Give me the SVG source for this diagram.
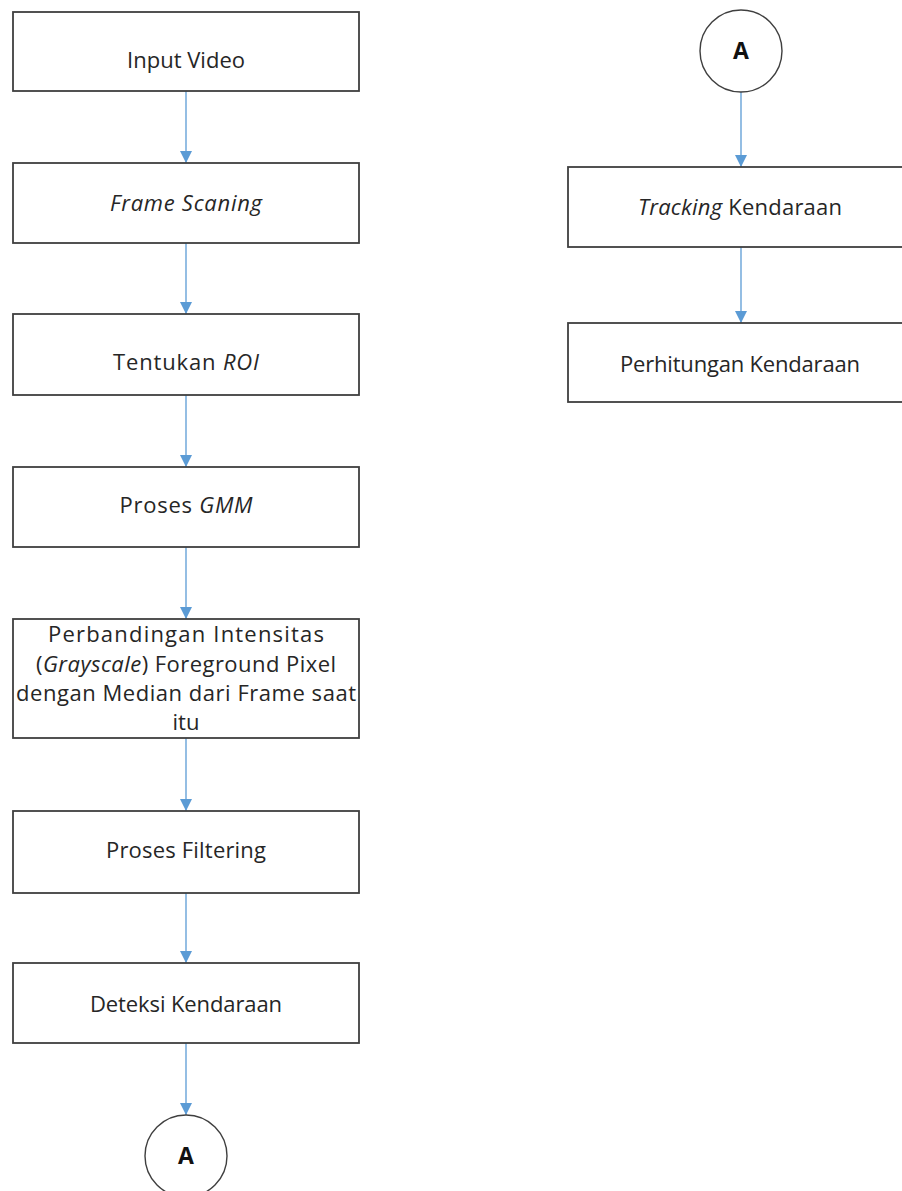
<svg xmlns="http://www.w3.org/2000/svg" width="902" height="1191" viewBox="0 0 902 1191">
  <style>
    .box { fill: #ffffff; stroke: #3f3f3f; stroke-width: 1.8; }
    .conn { fill: #ffffff; stroke: #3f3f3f; stroke-width: 1.4; }
    .lbl { font-family: "Open Sans", "Liberation Sans", sans-serif; font-size: 22px; fill: #262626; text-anchor: middle; }
    .it { font-style: italic; }
    .ref { font-family: "Open Sans", "Liberation Sans", sans-serif; font-size: 23px; font-weight: bold; fill: #111111; text-anchor: middle; }
    .flow { stroke: #5b9bd5; stroke-width: 1.3; fill: none; marker-end: url(#head); }
  </style>
  <defs>
    <marker id="head" markerUnits="userSpaceOnUse" markerWidth="14" markerHeight="12" refX="12" refY="6" orient="auto">
      <path d="M0,0 L12,6 L0,12 Z" fill="#5b9bd5"/>
    </marker>
  </defs>
  <rect width="902" height="1191" fill="#ffffff"/>

  <!-- connectors -->
  <g id="connectors">
    <line class="flow" x1="186" y1="91" x2="186" y2="163"/>
    <line class="flow" x1="186" y1="243" x2="186" y2="314"/>
    <line class="flow" x1="186" y1="395" x2="186" y2="467"/>
    <line class="flow" x1="186" y1="547" x2="186" y2="619"/>
    <line class="flow" x1="186" y1="738" x2="186" y2="811"/>
    <line class="flow" x1="186" y1="893" x2="186" y2="963"/>
    <line class="flow" x1="186" y1="1043" x2="186" y2="1115"/>
    <line class="flow" x1="741" y1="92" x2="741" y2="167"/>
    <line class="flow" x1="741" y1="247" x2="741" y2="323"/>
  </g>

  <!-- left column -->
  <g id="input-video">
    <rect class="box" x="13" y="12" width="346" height="79"/>
    <text class="lbl" x="186" y="68" textLength="118" lengthAdjust="spacing">Input Video</text>
  </g>
  <g id="frame-scaning">
    <rect class="box" x="13" y="163" width="346" height="80"/>
    <text class="lbl it" x="186" y="211" textLength="152" lengthAdjust="spacing">Frame Scaning</text>
  </g>
  <g id="tentukan-roi">
    <rect class="box" x="13" y="314" width="346" height="81"/>
    <text class="lbl" x="186" y="370" textLength="146" lengthAdjust="spacing">Tentukan <tspan class="it">ROI</tspan></text>
  </g>
  <g id="proses-gmm">
    <rect class="box" x="13" y="467" width="346" height="80"/>
    <text class="lbl" x="186" y="513" textLength="133" lengthAdjust="spacing">Proses <tspan class="it">GMM</tspan></text>
  </g>
  <g id="perbandingan">
    <rect class="box" x="13" y="619" width="346" height="119"/>
    <text class="lbl" x="186" y="642" textLength="276" lengthAdjust="spacing">Perbandingan Intensitas</text>
    <text class="lbl" x="186" y="672" textLength="300" lengthAdjust="spacing">(<tspan class="it">Grayscale</tspan>) Foreground Pixel</text>
    <text class="lbl" x="186" y="701" textLength="340" lengthAdjust="spacing">dengan Median dari Frame saat</text>
    <text class="lbl" x="186" y="730">itu</text>
  </g>
  <g id="proses-filtering">
    <rect class="box" x="13" y="811" width="346" height="82"/>
    <text class="lbl" x="186" y="858" textLength="160" lengthAdjust="spacing">Proses Filtering</text>
  </g>
  <g id="deteksi-kendaraan">
    <rect class="box" x="13" y="963" width="346" height="80"/>
    <text class="lbl" x="186" y="1012" textLength="192" lengthAdjust="spacing">Deteksi Kendaraan</text>
  </g>
  <g id="connector-a-out">
    <circle class="conn" cx="186" cy="1156" r="41"/>
    <text class="ref" x="186" y="1164">A</text>
  </g>

  <!-- right column -->
  <g id="connector-a-in">
    <circle class="conn" cx="741" cy="51" r="41"/>
    <text class="ref" x="741" y="59">A</text>
  </g>
  <g id="tracking-kendaraan">
    <rect class="box" x="568" y="167" width="346" height="80"/>
    <text class="lbl" x="740" y="215" textLength="204" lengthAdjust="spacing"><tspan class="it">Tracking</tspan> Kendaraan</text>
  </g>
  <g id="perhitungan-kendaraan">
    <rect class="box" x="568" y="323" width="346" height="79"/>
    <text class="lbl" x="740" y="372" textLength="240" lengthAdjust="spacing">Perhitungan Kendaraan</text>
  </g>
</svg>
